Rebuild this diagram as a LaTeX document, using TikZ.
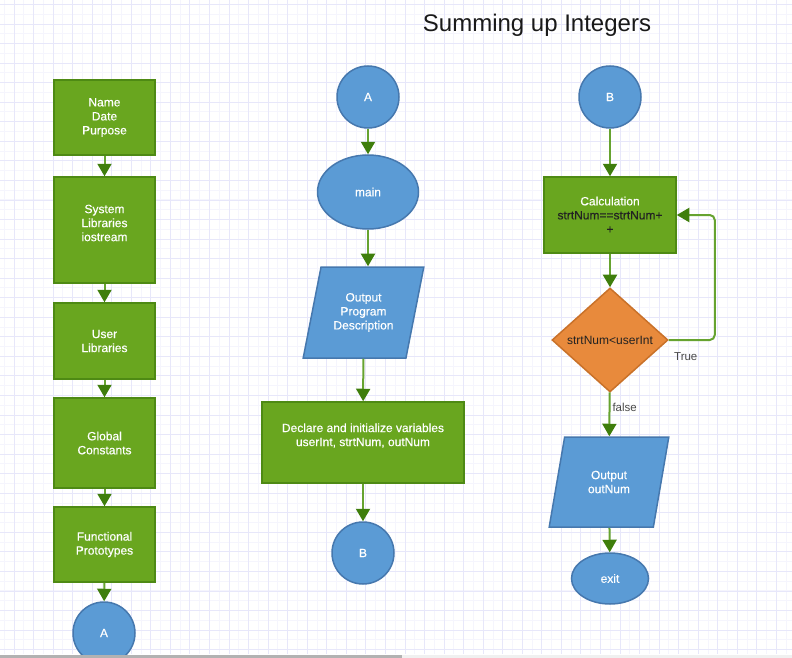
\documentclass[tikz,border=0pt]{standalone}
\usepackage{fontspec}
\setmainfont{Liberation Sans}
\newfontfamily\boxfont[FakeBold=0.4]{Liberation Sans}
\usetikzlibrary{shapes.geometric,arrows.meta}

\definecolor{boxgreen}{HTML}{69A61F}
\definecolor{greenline}{HTML}{4E8A14}
\definecolor{boxblue}{HTML}{5B9BD5}
\definecolor{blueline}{HTML}{4678AE}
\definecolor{boxorange}{HTML}{E88A3C}
\definecolor{orangeline}{HTML}{C97129}
\definecolor{arrowgreen}{HTML}{66A330}
\definecolor{headgreen}{HTML}{3F7E0C}
\definecolor{darktext}{HTML}{222222}
\definecolor{labelgray}{HTML}{4A4A4A}
\definecolor{gridmajor}{HTML}{E7E7FA}
\definecolor{gridminor}{HTML}{F5F5FD}

\tikzset{
  boxtext/.style={text=white,align=center,font=\boxfont\fontsize{12}{14}\selectfont},
  procbox/.style={draw=greenline,fill=boxgreen,line width=1.5pt,boxtext,inner sep=2pt},
  connector/.style={circle,draw=blueline,fill=boxblue,line width=1.5pt,boxtext,
    minimum size=62pt,inner sep=0pt},
  terminal/.style={ellipse,draw=blueline,fill=boxblue,line width=1.5pt,boxtext,inner sep=0pt},
  iobox/.style={trapezium,trapezium left angle=72,trapezium right angle=108,
    trapezium stretches=true,draw=blueline,fill=boxblue,line width=1.5pt,boxtext,inner sep=0pt},
  decision/.style={diamond,draw=orangeline,fill=boxorange,line width=1.5pt,
    text=darktext,font=\fontsize{12}{14}\selectfont,inner sep=0pt,
    minimum width=116pt,minimum height=104pt},
  flow/.style={draw=arrowgreen,line width=2pt,-{Triangle[width=14pt,length=12.5pt,color=headgreen]}},
  lbl/.style={text=labelgray,font=\fontsize{11.5}{13}\selectfont,inner sep=2pt}
}

\begin{document}
\begin{tikzpicture}[x=1pt,y=-1pt]
\useasboundingbox (0,0) rectangle (792,658);
\fill[white] (0,0) rectangle (792,658);
% grid
\foreach \i in {0,...,81} \draw[gridminor,line width=1pt] ({4.25+9.775*\i},0) -- ++(0,654);
\foreach \i in {0,...,67} \draw[gridminor,line width=1pt] (0,{-5.3+9.775*\i}) -- ++(792,0);
\foreach \i in {0,...,40} \draw[gridmajor,line width=1pt] ({14+19.55*\i},0) -- ++(0,654);
\foreach \i in {0,...,33} \draw[gridmajor,line width=1pt] (0,{4.5+19.55*\i}) -- ++(792,0);

\node[font=\fontsize{24}{28}\selectfont,text=black!90] (title) at (537,25) {Summing up Integers};

% left column
\node[procbox,minimum width=101pt,minimum height=75pt] (head) at (104.5,117.5) {Name\\Date\\Purpose};
\node[procbox,minimum width=101pt,minimum height=106pt,
  label={[boxtext,yshift=7pt]center:System\\Libraries\\iostream}] (syslib) at (104.5,230) {};
\node[procbox,minimum width=101pt,minimum height=76pt] (userlib) at (104.5,341) {User\\Libraries};
\node[procbox,minimum width=101pt,minimum height=90pt] (const) at (104.5,443) {Global\\Constants};
\node[procbox,minimum width=101pt,minimum height=75pt] (proto) at (104.5,544.5) {Functional\\Prototypes};
\node[connector] (a1) at (104,633) {A};
\draw[flow] (head) -- (syslib);
\draw[flow] (syslib) -- (userlib);
\draw[flow] (userlib) -- (const);
\draw[flow] (const) -- (proto);
\draw[flow] (proto) -- (a1);

% middle column
\node[connector] (a2) at (368,97) {A};
\node[terminal,minimum width=101pt,minimum height=74pt] (main) at (368,192) {main};
\node[iobox,minimum width=121pt,minimum height=91pt] (out1) at (363.5,312.5) {Output\\Program\\Description};
\node[procbox,minimum width=202pt,minimum height=81pt,
  label={[boxtext,yshift=7pt]center:Declare and initialize variables\\userInt, strtNum, outNum}] (decl) at (363,442.5) {};
\node[connector] (b2) at (363,553) {B};
\draw[flow] (a2) -- (main);
\draw[flow] (main) -- (main |- out1.north);
\draw[flow] (out1) -- (decl);
\draw[flow] (decl) -- (b2);

% right column
\node[connector] (b3) at (610,97) {B};
\node[procbox,minimum width=132pt,minimum height=76pt] (calc) at (610,215) {Calculation\\\textcolor{darktext}{strtNum==strtNum+}\\\textcolor{darktext}{+}};
\node[decision] (test) at (610,340) {strtNum<userInt};
\node[iobox,minimum width=120pt,minimum height=90pt] (out2) at (609,482) {Output\\outNum};
\node[terminal,minimum width=77pt,minimum height=51pt] (exit) at (610,578.5) {exit};
\draw[flow] (b3) -- (calc);
\draw[flow] (calc) -- (test);
\draw[flow,rounded corners=5pt] (test.east) -- node[lbl,below,pos=0.37,yshift=-10pt] {True} ++(46,0) |- (calc.east);
\draw[flow] (test) -- node[lbl,right,pos=0.35] {false} (out2);
\draw[flow] (out2) -- (exit);

% bottom bar
\fill[black!6] (0,654.5) rectangle (792,658);
\fill[black!30] (0,654.5) rectangle (402,658);
\end{tikzpicture}
\end{document}
